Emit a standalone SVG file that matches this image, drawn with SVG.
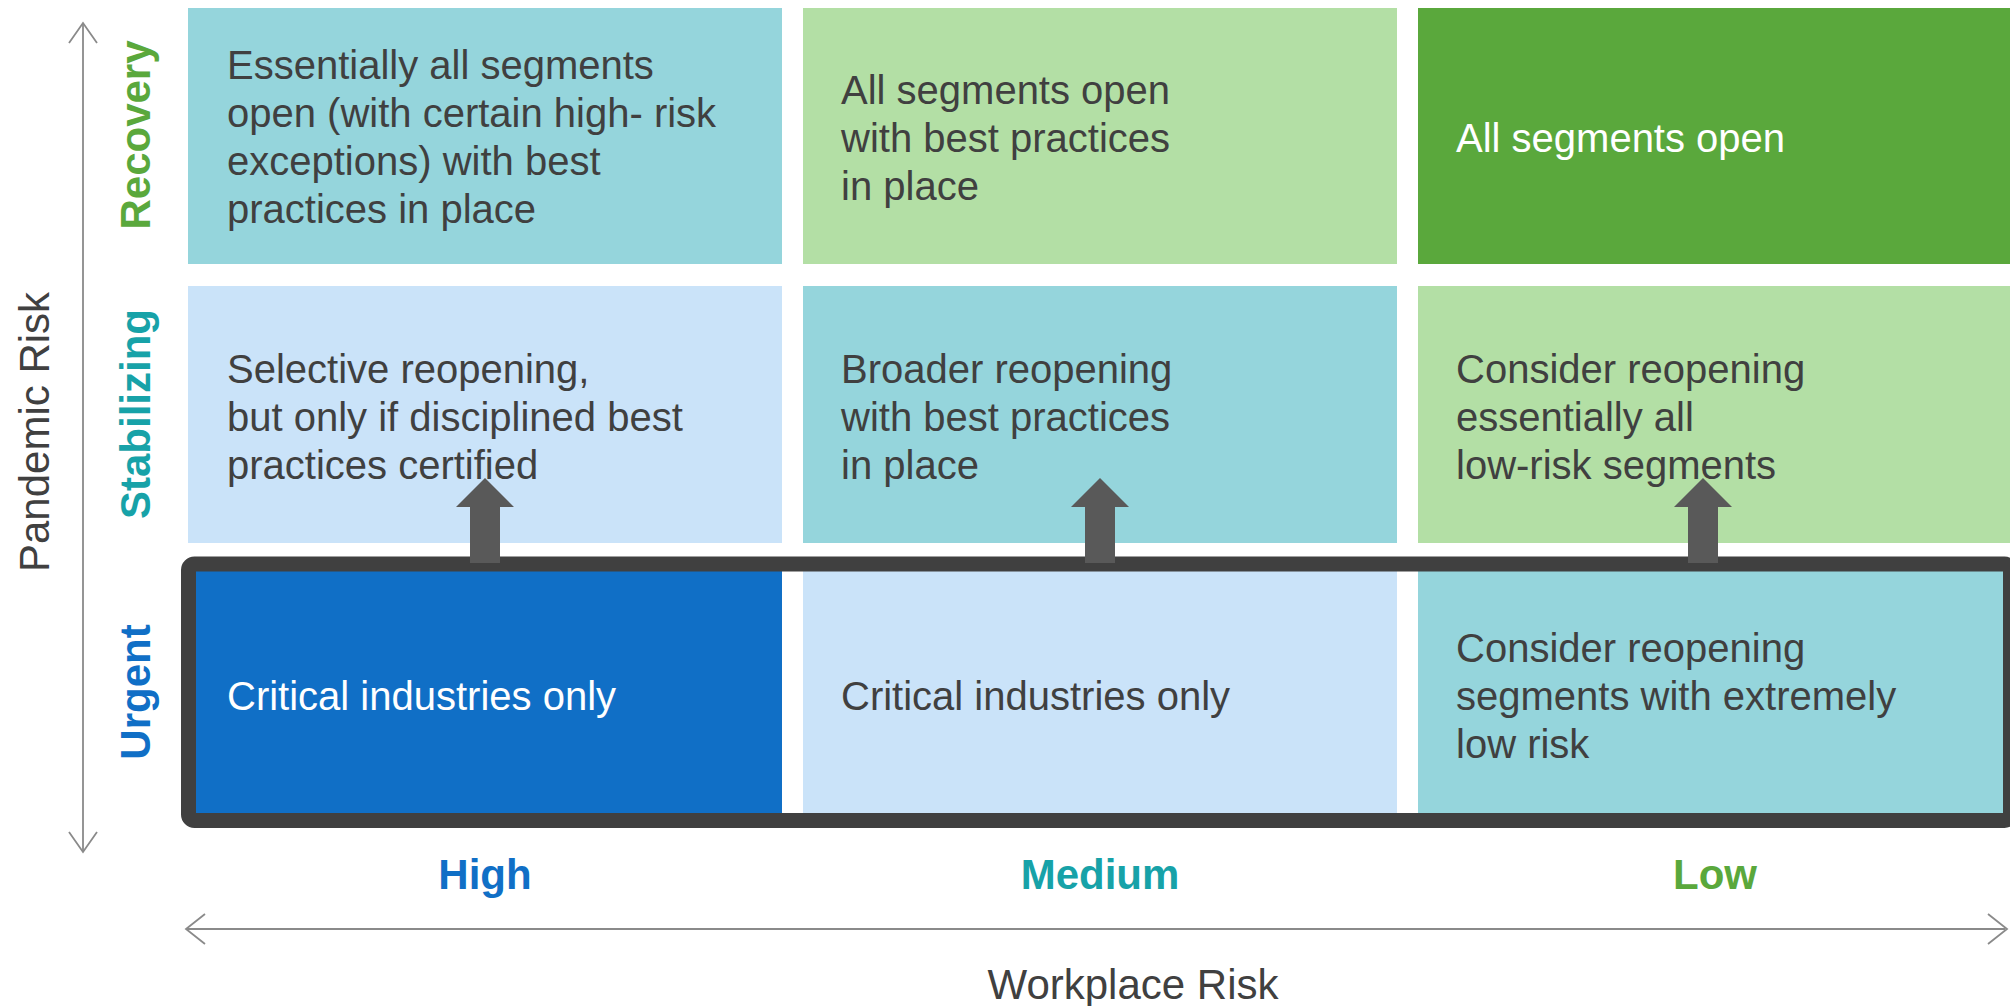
<svg xmlns="http://www.w3.org/2000/svg" width="2010" height="1006" viewBox="0 0 2010 1006">
<style>
.t{font-family:"Liberation Sans",Arial,sans-serif;font-size:40px;fill:#404040}
.w{fill:#ffffff}
.lab{font-family:"Liberation Sans",Arial,sans-serif;font-size:42px;font-weight:bold;text-anchor:middle}
.ax{font-family:"Liberation Sans",Arial,sans-serif;font-size:42px;fill:#404040;text-anchor:middle}
.axl{stroke:#8a8a8a;stroke-width:1.8;fill:none}
.teal{fill:#95D5DC}.lg{fill:#B3DFA5}.dg{fill:#5AA83C}.lb{fill:#CAE3F9}.bl{fill:#106FC6}
.arr{fill:#595959}
</style>
<g id="axes">
<line class="axl" x1="83" y1="24" x2="83" y2="851"/>
<polyline class="axl" points="69,43 83,23 97,43"/>
<polyline class="axl" points="69,832 83,852 97,832"/>
<line class="axl" x1="187" y1="929" x2="2005" y2="929"/>
<polyline class="axl" points="205,914 186,929 205,944"/>
<polyline class="axl" points="1988,914 2007,929 1988,944"/>
<text class="ax" transform="translate(49,432) rotate(-90)">Pandemic Risk</text>
<text class="ax" x="1133" y="999">Workplace Risk</text>
<text class="lab" x="485" y="889" fill="#106FC6">High</text>
<text class="lab" x="1100" y="889" fill="#17A2A8">Medium</text>
<text class="lab" x="1715" y="889" fill="#5AA83C">Low</text>
<text class="lab" transform="translate(150,135) rotate(-90)" fill="#5AA83C">Recovery</text>
<text class="lab" transform="translate(150,414) rotate(-90)" fill="#17A2A8">Stabilizing</text>
<text class="lab" transform="translate(150,692) rotate(-90)" fill="#106FC6">Urgent</text>
</g>
<g id="r1c1"><rect class="teal" x="188" y="8" width="594" height="256"/>
<text class="t"><tspan x="227" y="79">Essentially all segments</tspan><tspan x="227" y="127">open (with certain high- risk</tspan><tspan x="227" y="175">exceptions) with best</tspan><tspan x="227" y="223">practices in place</tspan></text></g>
<g id="r1c2"><rect class="lg" x="803" y="8" width="594" height="256"/>
<text class="t"><tspan x="841" y="104">All segments open</tspan><tspan x="841" y="152">with best practices</tspan><tspan x="841" y="200">in place</tspan></text></g>
<g id="r1c3"><rect class="dg" x="1418" y="8" width="592" height="256"/>
<text class="t w" x="1456" y="152">All segments open</text></g>
<g id="r2c1"><rect class="lb" x="188" y="286" width="594" height="257"/>
<text class="t"><tspan x="227" y="383">Selective reopening,</tspan><tspan x="227" y="431">but only if disciplined best</tspan><tspan x="227" y="479">practices certified</tspan></text></g>
<g id="r2c2"><rect class="teal" x="803" y="286" width="594" height="257"/>
<text class="t"><tspan x="841" y="383">Broader reopening</tspan><tspan x="841" y="431">with best practices</tspan><tspan x="841" y="479">in place</tspan></text></g>
<g id="r2c3"><rect class="lg" x="1418" y="286" width="592" height="257"/>
<text class="t"><tspan x="1456" y="383">Consider reopening</tspan><tspan x="1456" y="431">essentially all</tspan><tspan x="1456" y="479">low-risk segments</tspan></text></g>
<g id="r3c1"><rect class="bl" x="188" y="566" width="594" height="254"/>
<text class="t w" x="227" y="710">Critical industries only</text></g>
<g id="r3c2"><rect class="lb" x="803" y="566" width="594" height="254"/>
<text class="t" x="841" y="710">Critical industries only</text></g>
<g id="r3c3"><rect class="teal" x="1418" y="566" width="592" height="254"/>
<text class="t"><tspan x="1456" y="662">Consider reopening</tspan><tspan x="1456" y="710">segments with extremely</tspan><tspan x="1456" y="758">low risk</tspan></text></g>
<g id="frame"><rect x="188.5" y="564" width="1822" height="256.5" rx="6" fill="none" stroke="#404040" stroke-width="15"/></g>
<g id="connectors">
<polygon class="arr" points="485,478 514,507 500,507 500,563 470,563 470,507 456,507"/>
<polygon class="arr" points="1100,478 1129,507 1115,507 1115,563 1085,563 1085,507 1071,507"/>
<polygon class="arr" points="1703,478 1732,507 1718,507 1718,563 1688,563 1688,507 1674,507"/>
</g>
</svg>
